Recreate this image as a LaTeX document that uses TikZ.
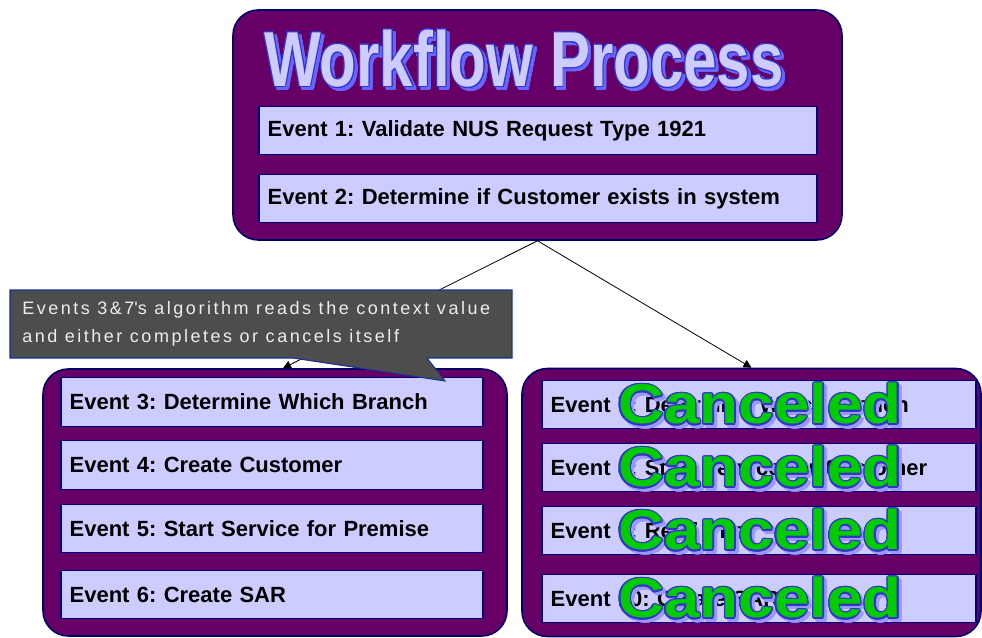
\documentclass[tikz,border=0pt]{standalone}
\usepackage{fontspec}
\setmainfont{Liberation Sans}
\newfontfamily\notefont[LetterSpace=14]{Liberation Sans}
\usepackage{contour}
\contourlength{0.9pt}
\usetikzlibrary{arrows.meta}
\definecolor{wfpurple}{HTML}{660066}
\definecolor{wfedge}{HTML}{000066}
\definecolor{evfill}{HTML}{CCCCFF}
\definecolor{evedge}{HTML}{000080}
\definecolor{notegray}{HTML}{4D4D4D}
\definecolor{noteedge}{HTML}{1A3399}
\definecolor{cangreen}{HTML}{00CC00}
\definecolor{canedge}{HTML}{3333CC}
\definecolor{canshade}{HTML}{9999FF}
\definecolor{ttledge}{HTML}{3333CC}
\definecolor{ttlshade}{HTML}{6666FF}
\tikzset{
  wfbox/.style={draw=wfedge, fill=wfpurple, line width=1.2pt, rounded corners=19pt, inner sep=0pt},
  evbox/.style={draw=evedge, fill=evfill, line width=.9pt, minimum height=36.5pt, inner xsep=6.5pt,
    inner ysep=0pt, text width=#1, align=left, font=\fontsize{16.5}{19}\selectfont\bfseries},
  flow/.style={line width=.6pt, -{Triangle[length=6pt,width=6pt]}},
  notetext/.style={text=white!93!black, align=left, inner sep=0pt, font=\notefont\fontsize{13.5}{21}\selectfont},
  canmark/.style={font=\fontsize{42}{42}\selectfont\bfseries, xscale=1.14, inner sep=0pt, text=cangreen},
  ttlmark/.style={font=\fontsize{58.5}{60}\selectfont\bfseries, xscale=.77, inner sep=0pt, text=evfill}
}
\frenchspacing
\begin{document}
\begin{tikzpicture}[x=.75pt,y=-.75pt]
\useasboundingbox (0,0) rectangle (982,638);
% containers
\node[wfbox, minimum width=456.75pt, minimum height=172.5pt] (wf) at (537.5,125) {};
\node[wfbox, minimum width=348pt, minimum height=200.25pt] (lft) at (275,502.5) {};
\node[wfbox, minimum width=344.25pt, minimum height=201pt] (rgt) at (751.5,502.5) {};
% title
\node[ttlmark, text=ttlshade] (ttls) at (527,62) {\contour{ttlshade}{Workflow Process}};
\node[ttlmark] (ttl) at (524,59) {\contour{ttledge}{Workflow Process}};
% events
\node[evbox=405.5pt] (e1) at (538,130.5) {Event 1: Validate NUS Request Type 1921};
\node[evbox=405.5pt] (e2) at (538,198.5) {Event 2: Determine if Customer exists in system};
\node[evbox=303.5pt] (e3) at (272,402) {Event 3: Determine Which Branch};
\node[evbox=303.5pt] (e4) at (272,465) {Event 4: Create Customer};
\node[evbox=303.5pt] (e5) at (272,528.5) {Event 5: Start Service for Premise};
\node[evbox=303.5pt] (e6) at (272,594.5) {Event 6: Create SAR};
\node[evbox=312.5pt] (e7) at (759,404.5) {Event 7: Determine Which Branch};
\node[evbox=312.5pt] (e8) at (759,467.5) {Event 8: Start Service for Customer};
\node[evbox=312.5pt] (e9) at (759,530.5) {Event 9: Read Info};
\node[evbox=312.5pt] (e10) at (759,598.5) {Event 10: Create SAR};
% branches
\draw[flow] (wf.south) -- ([xshift=6pt]lft.north);
\draw[flow] (wf.south) -- (rgt.north);
% callout
\draw[noteedge, line width=.8pt, fill=notegray] (10,290) -- (512,290) -- (512,358) -- (427,358)
  -- (445,381) -- (293,358) -- (10,358) -- cycle;
\node[notetext, anchor=north west] (note) at (22,301)
  {Events 3\&7\textquotesingle s algorithm reads the context value\\and either completes or cancels itself};
% canceled marks
\coordinate (cx) at (760,0);
\foreach \e in {7,8,9,10}{
  \path (e\e.center -| cx) coordinate (cm\e);
  \node[canmark, text=canshade] (cs\e) at ([shift={(3,3)}]cm\e) {\contour{canshade}{Canceled}};
  \node[canmark] (c\e) at (cm\e) {\contour{canedge}{Canceled}};
}
\end{tikzpicture}
\end{document}
